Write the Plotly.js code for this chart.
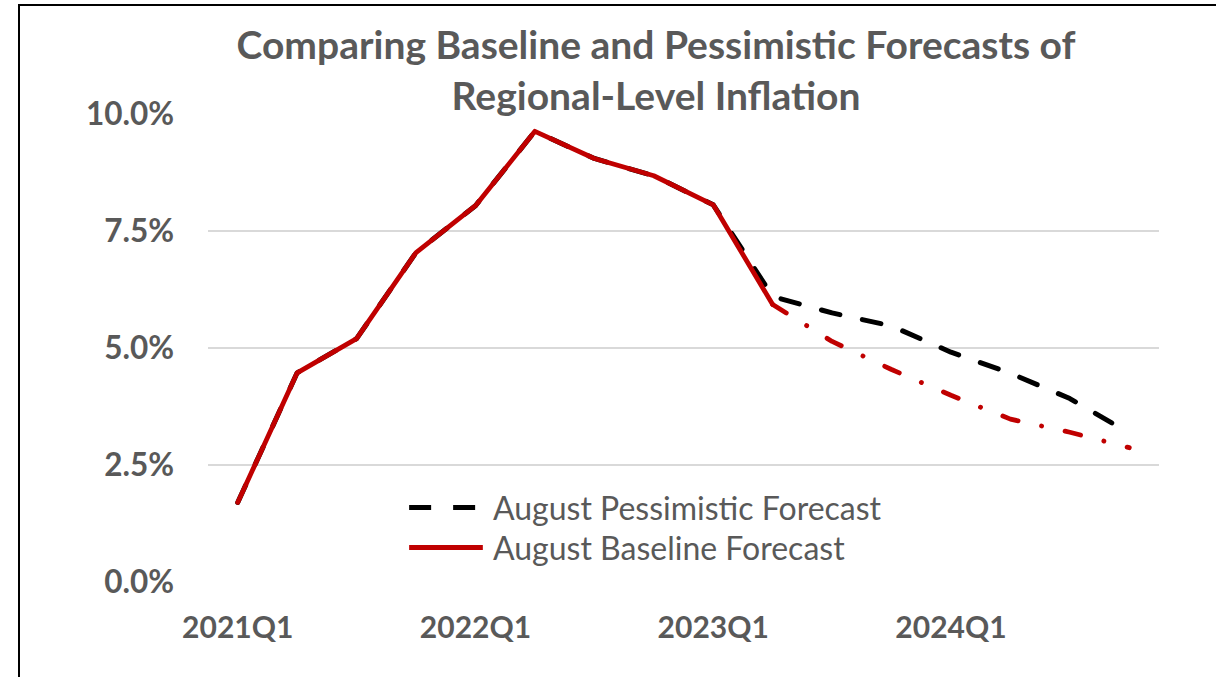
<!DOCTYPE html>
<html>
<head>
<meta charset="utf-8">
<script src="https://cdn.plot.ly/plotly-3.0.1.min.js"></script>
<style>
  html, body { margin: 0; padding: 0; background: #fff; overflow: hidden; }
  #wrap { position: relative; width: 1216px; height: 677px; }
  #chart { position: absolute; left: 0; top: 0; width: 1216px; height: 677px; }
  #frame { position: absolute; left: 18px; top: 4px; right: -10px; bottom: -10px;
           border-left: 2px solid #000; border-top: 2px solid #000; pointer-events: none; }
  .scatterlayer path.js-line { stroke-linecap: round; stroke-linejoin: round; }
</style>
</head>
<body>
<div id="wrap"><div id="chart"></div><div id="frame"></div></div>
<script>
// ---- data (inflation, %) ----
const quarters = ["2021Q1","2021Q2","2021Q3","2021Q4","2022Q1","2022Q2","2022Q3","2022Q4",
                  "2023Q1","2023Q2","2023Q3","2023Q4","2024Q1","2024Q2","2024Q3","2024Q4"];
const pessimistic = [1.70,4.47,5.20,7.04,8.04,9.63,9.05,8.68,8.06,6.10,5.75,5.47,4.91,4.46,3.92,3.18];
const baseline    = [1.70,4.47,5.20,7.04,8.04,9.63,9.05,8.68,8.06,5.93,5.14,4.54,3.99,3.48,3.20,2.87];
const historyEnd = 9; // last quarter drawn solid (2023Q2)
const tickQuarters = ["2021Q1","2022Q1","2023Q1","2024Q1"];
const yTicks = [0, 2.5, 5, 7.5, 10];
const seriesNames = ["August Pessimistic Forecast", "August Baseline Forecast"];

const pct = a => a.map(v => v / 100);
const gray = "#595959";
const red = "#C00000";

const traces = [
  { x: quarters, y: pct(pessimistic), type: "scatter", mode: "lines", name: seriesNames[0],
    line: { color: "#000000", width: 5, dash: "19px,23px" }, showlegend: false, hoverinfo: "skip" },
  { x: quarters.slice(historyEnd), y: pct(baseline.slice(historyEnd)), type: "scatter", mode: "lines",
    name: seriesNames[1] + " (forecast)", line: { color: red, width: 4.8, dash: "16px,24px,0.1px,24px" },
    showlegend: false, hoverinfo: "skip" },
  { x: quarters.slice(0, historyEnd + 1), y: pct(baseline.slice(0, historyEnd + 1)), type: "scatter", mode: "lines",
    name: seriesNames[1], line: { color: red, width: 4.8 }, showlegend: false, hoverinfo: "skip" }
];

const legY = [0.159, 0.0736];
const layout = {
  width: 1216, height: 677,
  margin: { l: 208, r: 57, t: 114, b: 94.5 },
  paper_bgcolor: "rgba(0,0,0,0)", plot_bgcolor: "#fff",
  showlegend: false,
  title: {
    text: "Comparing Baseline and Pessimistic Forecasts of<br>Regional-Level Inflation",
    font: { family: "Lato, 'Open Sans', sans-serif", size: 39, color: gray, weight: 700 },
    x: 0.5395, xref: "container", xanchor: "center",
    y: 0.913, yref: "container", yanchor: "top"
  },
  xaxis: {
    type: "category", categoryorder: "array", categoryarray: quarters,
    range: [-0.5, quarters.length - 0.5],
    tickmode: "array", tickvals: tickQuarters, ticktext: tickQuarters,
    showgrid: false, showline: false, zeroline: false, ticks: "",
    ticklabelstandoff: 25,
    tickfont: { family: "Lato, sans-serif", size: 30, color: gray, weight: 700 }
  },
  yaxis: {
    range: [0, 0.1], tickmode: "array", tickvals: pct(yTicks), tickformat: ".1%",
    showgrid: true, gridcolor: "#d9d9d9", gridwidth: 2,
    showline: false, zeroline: false, ticks: "",
    ticklabelstandoff: 33,
    tickfont: { family: "Lato, sans-serif", size: 31.5, color: gray, weight: 700 }
  },
  shapes: [
    { type: "line", xref: "paper", yref: "paper", x0: 0.2115, x1: 0.2815, y0: legY[0], y1: legY[0],
      line: { color: "#000", width: 5, dash: "22px,22px" } },
    { type: "line", xref: "paper", yref: "paper", x0: 0.2115, x1: 0.289, y0: legY[1], y1: legY[1],
      line: { color: red, width: 5 } }
  ],
  annotations: seriesNames.map((n, i) => ({
    text: n, xref: "paper", yref: "paper", x: 0.2975, y: legY[i], xanchor: "left", yanchor: "middle",
    showarrow: false, font: { family: "Lato, sans-serif", size: 32, color: gray }
  }))
};

Plotly.newPlot("chart", traces, layout, { staticPlot: true, displayModeBar: false });
</script>
</body>
</html>
